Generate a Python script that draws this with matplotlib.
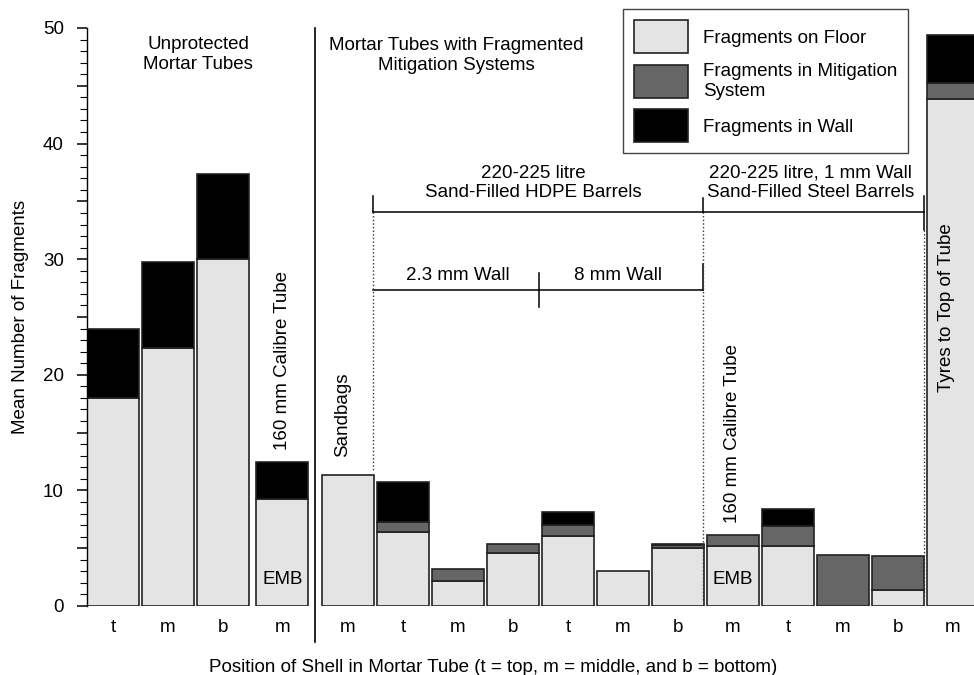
import numpy as np
import matplotlib
matplotlib.use('Agg')
import matplotlib.pyplot as plt
from matplotlib.patches import Patch
from matplotlib.ticker import MultipleLocator, FuncFormatter

plt.rcParams['font.family'] = ['Liberation Sans', 'DejaVu Sans']
plt.rcParams['font.size'] = 13.5

# shell position in tube for each bar
positions = ['t', 'm', 'b', 'm', 'm', 't', 'm', 'b', 't', 'm', 'b', 'm', 't', 'm', 'b', 'm']
# mean fragment counts
floor = np.array([18.0, 22.3, 30.0, 9.25, 11.35, 6.4, 2.15, 4.6, 6.05, 3.05, 5.0, 5.2, 5.2, 0.0, 1.35, 43.9])
mitigation = np.array([0, 0, 0, 0, 0, 0.9, 1.05, 0.8, 0.95, 0, 0.28, 0.95, 1.75, 4.38, 3.0, 1.3])
wall = np.array([6.0, 7.5, 7.4, 3.2, 0, 3.45, 0, 0, 1.15, 0, 0.1, 0, 1.4, 0, 0, 4.2])

legend_labels = ['Fragments on Floor', 'Fragments in Mitigation\nSystem', 'Fragments in Wall']
colors = ['#e4e4e4', '#666666', '#000000']
edge = '#222222'

# bar layout: unprotected group, then mitigation group after the divider
x = np.array([0, 1, 2, 3.08] + list(4.27 + np.arange(12)))
width = 0.945

fig = plt.figure(figsize=(9.74, 6.75), dpi=100)
ax = fig.add_axes([87 / 974, 69 / 675, 887 / 974, 578 / 675])

bottom = np.zeros(len(x))
for vals, c in zip([floor, mitigation, wall], colors):
    m = vals > 0
    ax.bar(x[m], vals[m], width=width, bottom=bottom[m], color=c,
           edgecolor=edge, linewidth=1.2)
    bottom = bottom + vals
total = bottom

ax.set_xlim(-0.4727, 15.655)
ax.set_ylim(0, 50)
for s in ['top', 'right', 'bottom']:
    ax.spines[s].set_visible(False)
ax.spines['left'].set_linewidth(1.0)

ax.set_xticks(x)
ax.set_xticklabels(positions)
ax.tick_params(axis='x', length=0, pad=9)
ax.yaxis.set_major_locator(MultipleLocator(5))
ax.yaxis.set_minor_locator(MultipleLocator(1))
ax.yaxis.set_major_formatter(FuncFormatter(lambda v, p: f'{v:.0f}' if v % 10 == 0 else ''))
ax.tick_params(axis='y', which='major', length=7.2, width=1.1, pad=9.5)
ax.tick_params(axis='y', which='minor', length=5, width=0.8)

ax.set_ylabel('Mean Number of Fragments')
ax.yaxis.set_label_coords(-0.0755, 0.5)
ax.yaxis.label.set_va('center')
ax.set_xlabel('Position of Shell in Mortar Tube (t = top, m = middle, and b = bottom)')
ax.xaxis.set_label_coords(0.4577, -0.107)
ax.xaxis.label.set_va('center')

# divider between unprotected and protected tubes
xdiv = (x[3] + x[4]) / 2
ax.plot([xdiv, xdiv], [50, -3.1], color='black', lw=1.2, clip_on=False)

ax.text(1.545, 47.7, 'Unprotected\nMortar Tubes', ha='center', va='center')
ax.text(6.24, 47.6, 'Mortar Tubes with Fragmented\nMitigation Systems', ha='center', va='center')

# brackets
xa = x[4] + 0.457
xb = x[10] + 0.457
xc = x[14] + 0.475
xmid = x[7] + 0.475
lk = dict(color='black', lw=1.1)
dk = dict(color='#333333', lw=1.0, linestyle=(0, (1, 1.6)))
ax.plot([xa, xb], [34.1, 34.1], **lk)
ax.plot([xb, xc], [34.1, 34.1], **lk)
ax.plot([xa, xa], [34.1, 35.5], **lk)
ax.plot([xb, xb], [34.1, 35.3], **lk)
ax.plot([xc, xc], [32.5, 35.5], **lk)
ax.plot([xa, xb], [27.3, 27.3], **lk)
ax.plot([xmid, xmid], [25.9, 28.8], **lk)
ax.plot([xb, xb], [27.3, 29.6], **lk)
ax.plot([xa, xa], [34.1, 11.6], **dk)
ax.plot([xb, xb], [34.1, 0.5], **dk)
ax.plot([xc, xc], [32.5, 0.8], **dk)

ax.text(7.65, 36.6, '220-225 litre\nSand-Filled HDPE Barrels', ha='center', va='center', linespacing=1.15)
ax.text(12.68, 36.6, '220-225 litre, 1 mm Wall\nSand-Filled Steel Barrels', ha='center', va='center', linespacing=1.15)
ax.text(6.27, 28.6, '2.3 mm Wall', ha='center', va='center')
ax.text(9.18, 28.6, '8 mm Wall', ha='center', va='center')

# bar annotations
ax.text(x[3], total[3] + 1.05, '160 mm Calibre Tube', rotation=90, ha='center', va='bottom')
ax.text(x[4] - 0.09, total[4] + 1.5, 'Sandbags', rotation=90, ha='center', va='bottom')
ax.text(x[11], total[11] + 1.0, '160 mm Calibre Tube', rotation=90, ha='center', va='bottom')
ax.text(x[15] - 0.11, 18.5, 'Tyres to Top of Tube', rotation=90, ha='center', va='bottom')
ax.text(x[3], 2.25, 'EMB', ha='center', va='center')
ax.text(x[11], 2.25, 'EMB', ha='center', va='center')

handles = [Patch(facecolor=c, edgecolor=edge, linewidth=1.2) for c in colors]
leg = fig.legend(handles, legend_labels, loc='upper left',
                 bbox_to_anchor=(623 / 974, 1 - 9 / 675), borderaxespad=0,
                 handlelength=2.85, handleheight=2.33, labelspacing=0.5,
                 borderpad=0.6, handletextpad=0.8, fancybox=False,
                 edgecolor='#444444', framealpha=1)
leg.get_frame().set_linewidth(1.0)
leg.get_texts()[1].set_linespacing(1.25)

fig.savefig('out.png', dpi=100)
